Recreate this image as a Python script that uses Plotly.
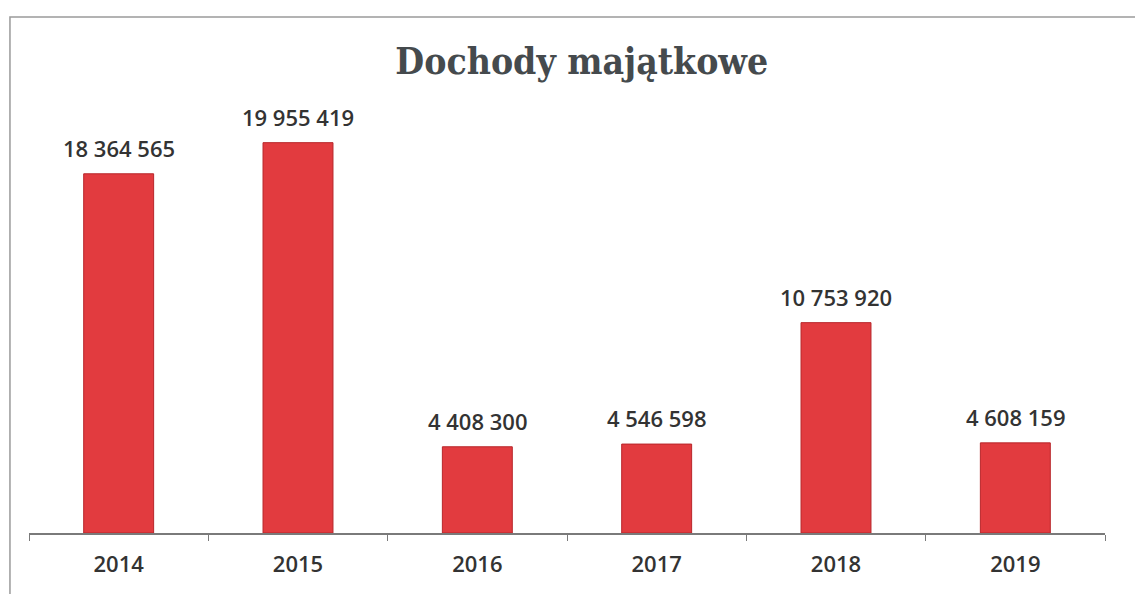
import plotly.graph_objects as go

# Dane
lata = ["2014", "2015", "2016", "2017", "2018", "2019"]
dochody = [18364565, 19955419, 4408300, 4546598, 10753920, 4608159]


def format_pl(value):
    return f"{value:,.0f}".replace(",", " ")


fig = go.Figure(
    go.Bar(
        x=lata,
        y=dochody,
        marker=dict(color="#e23b3f", line=dict(color="#b8262a", width=1)),
        hoverinfo="x+y",
    )
)

# Etykiety nad słupkami (oś kategorii -> indeks kategorii)
for i, val in enumerate(dochody):
    fig.add_annotation(
        x=i,
        y=val,
        text=format_pl(val),
        showarrow=False,
        yanchor="bottom",
        yshift=9,
        font=dict(family="Open Sans", size=22, weight=600, color="#333333"),
    )

fig.update_layout(
    width=1143,
    height=594,
    margin=dict(l=21, r=46, t=36, b=69),
    paper_bgcolor="white",
    plot_bgcolor="white",
    bargap=0.61,
    showlegend=False,
    title=dict(
        text="<b>Dochody majątkowe</b>",
        x=0.502,
        xanchor="center",
        y=0.911,
        yanchor="middle",
        font=dict(family="DejaVu Serif Condensed, DejaVu Serif", size=37, color="#454a4d"),
    ),
    xaxis=dict(
        type="category",
        showline=True,
        linecolor="#7a7a7a",
        linewidth=1.5,
        ticks="outside",
        tickson="boundaries",
        ticklen=6,
        tickcolor="#7a7a7a",
        ticklabelstandoff=11,
        tickfont=dict(family="Open Sans", size=22, weight=600, color="#333333"),
        showgrid=False,
    ),
    yaxis=dict(
        range=[0, 25000000],
        visible=False,
        showgrid=False,
    ),
    shapes=[
        dict(
            type="rect",
            xref="paper",
            yref="paper",
            x0=-0.0177,
            x1=1.1,
            y0=-0.2,
            y1=1.055,
            line=dict(color="#9a9a9a", width=1.5),
        )
    ],
)

fig.write_html("out.html")
